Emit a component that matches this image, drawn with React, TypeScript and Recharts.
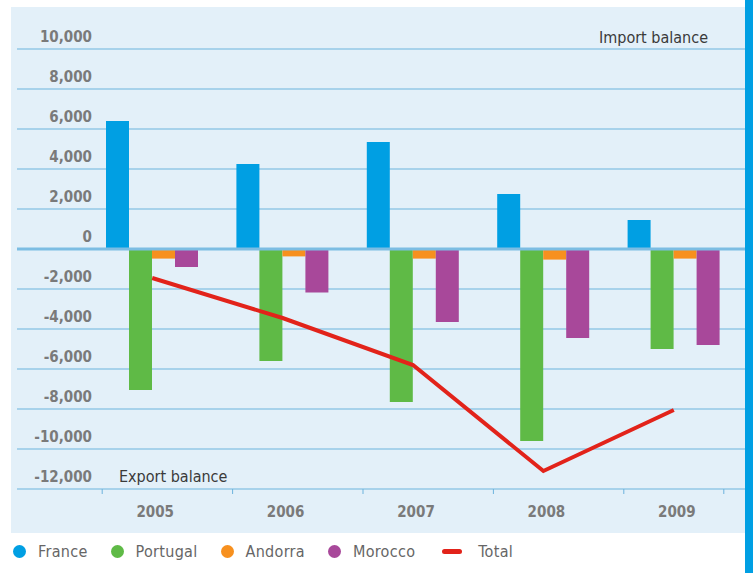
import { ComposedChart, Bar, Line, XAxis, YAxis, CartesianGrid, ReferenceLine } from 'recharts';

const years = ['2005', '2006', '2007', '2008', '2009'];
const france = [6400, 4250, 5350, 2750, 1450];
const portugal = [-7050, -5600, -7650, -9600, -5000];
const andorra = [-480, -370, -480, -530, -480];
const morocco = [-900, -2170, -3650, -4450, -4800];
const total = [-1450, -3450, -5800, -11100, -8050];
const yTicks = [-12000, -10000, -8000, -6000, -4000, -2000, 0, 2000, 4000, 6000, 8000, 10000];

const data = years.map((year, i) => ({
  year,
  France: france[i],
  Portugal: portugal[i],
  Andorra: andorra[i],
  Morocco: morocco[i],
  Total: total[i],
}));

const FONT = "'DejaVu Sans Condensed', 'Liberation Sans Narrow', Roboto, sans-serif";
const GRID = '#6db3dd';

const legendItems = [
  { name: 'France', color: '#009fe3', type: 'dot' },
  { name: 'Portugal', color: '#5fba46', type: 'dot' },
  { name: 'Andorra', color: '#f7901e', type: 'dot' },
  { name: 'Morocco', color: '#a8489a', type: 'dot' },
  { name: 'Total', color: '#e2231a', type: 'line' },
];

const YTick = (props: any) => {
  const { y, payload } = props;
  return (
    <text x={92} y={y - 7} textAnchor="end" fill="#7a7a7a" fontSize={15} fontWeight="bold" fontFamily={FONT}>
      {Number(payload.value).toLocaleString('en-US')}
    </text>
  );
};

const XTick = (props: any) => {
  const { x, y, payload, index } = props;
  return (
    <g>
      <line x1={x - 50} x2={x - 50} y1={y - 8} y2={y - 3} stroke={GRID} />
      {index === years.length - 1 && <line x1={x + 50} x2={x + 50} y1={y - 8} y2={y - 3} stroke={GRID} />}
      <text x={x + 3} y={y + 20} textAnchor="middle" fill="#7a7a7a" fontSize={15} fontWeight="bold" fontFamily={FONT}>
        {payload.value}
      </text>
    </g>
  );
};

export default function App() {
  return (
    <div style={{ position: 'absolute', left: 0, top: 0, width: 753, height: 573, background: '#fff', fontFamily: FONT }}>
      <div style={{ position: 'absolute', left: 11, top: 7, width: 734, height: 526, background: '#e3f0f9' }} />
      <div style={{ position: 'absolute', left: 745, top: 0, width: 8, height: 573, background: '#009fe3' }} />
      <div style={{ position: 'absolute', left: 0, top: 0 }}>
        <ComposedChart width={753} height={573} data={data} margin={{ top: 49, right: 8, left: 7, bottom: 54 }} barGap={0}>
          <CartesianGrid vertical={false} stroke={GRID} strokeWidth={1.2} />
          <XAxis dataKey="year" height={30} padding={{ left: 70, right: 6 }} axisLine={false} tickLine={false} tick={<XTick />} interval={0} />
          <YAxis width={10} domain={[-12000, 10000]} ticks={yTicks} axisLine={false} tickLine={false} tick={<YTick />} interval={0} />
          <ReferenceLine
            y={10000}
            stroke="none"
            label={(p: any) => (
              <text x={p.viewBox.x + p.viewBox.width - 37} y={p.viewBox.y - 6} textAnchor="end" fill="#3a3a3a" fontSize={16} fontFamily={FONT}>
                Import balance
              </text>
            )}
          />
          <ReferenceLine
            y={-12000}
            stroke="none"
            label={(p: any) => (
              <text x={p.viewBox.x + 102} y={p.viewBox.y - 7} textAnchor="start" fill="#3a3a3a" fontSize={16} fontFamily={FONT}>
                Export balance
              </text>
            )}
          />
          <ReferenceLine y={0} stroke="#7cbde3" strokeWidth={3} />
          <Bar dataKey="France" fill="#009fe3" barSize={23} isAnimationActive={false} />
          <Bar dataKey="Portugal" fill="#5fba46" barSize={23} isAnimationActive={false} />
          <Bar dataKey="Andorra" fill="#f7901e" barSize={23} isAnimationActive={false} />
          <Bar dataKey="Morocco" fill="#a8489a" barSize={23} isAnimationActive={false} />
          <Line dataKey="Total" type="linear" stroke="#e2231a" strokeWidth={4} dot={false} activeDot={false} isAnimationActive={false} />
        </ComposedChart>
      </div>
      <div style={{ position: 'absolute', left: 13, top: 542, display: 'flex', alignItems: 'center', fontSize: 16, color: '#666', letterSpacing: 0.3 }}>
        {legendItems.map((it) => (
          <div key={it.name} style={{ display: 'flex', alignItems: 'center', marginRight: 23 }}>
            {it.type === 'dot' ? (
              <span style={{ width: 13, height: 13, borderRadius: '50%', background: it.color, display: 'inline-block', marginRight: 12 }} />
            ) : (
              <span style={{ width: 20, height: 5, borderRadius: 3, background: it.color, display: 'inline-block', marginRight: 16, marginLeft: 4 }} />
            )}
            <span>{it.name}</span>
          </div>
        ))}
      </div>
    </div>
  );
}
